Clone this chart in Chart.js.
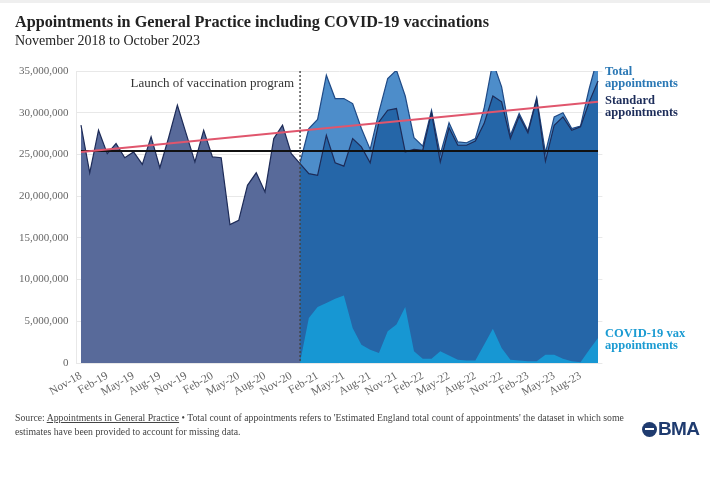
<!DOCTYPE html>
<html><head><meta charset="utf-8">
<script src="https://cdn.jsdelivr.net/npm/chart.js@4.4.0/dist/chart.umd.min.js"></script>
<style>
html,body{margin:0;padding:0;background:#fff;}
#wrap{position:relative;width:710px;height:483px;overflow:hidden;font-family:"Liberation Serif","Times New Roman",serif;}
#c{position:absolute;left:0;top:0;}
.t{position:absolute;white-space:nowrap;}
#topbar{position:absolute;left:0;top:0;width:710px;height:3px;background:#efefef;}
#title{left:15px;top:13px;font-size:16.2px;font-weight:bold;color:#222;}
#sub{left:15px;top:33px;font-size:14px;color:#222;}
.lab{position:absolute;left:605px;font-weight:bold;font-size:12.5px;line-height:12px;white-space:nowrap;}
#foot{position:absolute;left:15px;top:411px;width:615px;font-size:9.75px;line-height:14px;color:#444;}
#foot u{text-decoration:underline;}
#logo{position:absolute;left:642px;top:418px;height:22px;display:flex;align-items:center;}
#logo .circ{width:15px;height:15px;border-radius:50%;background:#1f3b6f;margin-right:1px;position:relative;}
#logo .circ:before{content:"";position:absolute;left:3px;right:3px;top:6.5px;height:2px;background:#fff;}
#logo .txt{font-family:"Liberation Sans",Arial,sans-serif;font-weight:bold;font-size:19px;color:#1f3b6f;letter-spacing:-0.6px;}
</style></head>
<body>
<div id="wrap">
<div id="topbar"></div>
<canvas id="c" width="710" height="483"></canvas>
<div class="t" id="title">Appointments in General Practice including COVID-19 vaccinations</div>
<div class="t" id="sub">November 2018 to October 2023</div>
<div class="lab" style="top:65px;color:#2a78b5;">Total<br>appointments</div>
<div class="lab" style="top:94px;color:#1d2d5a;">Standard<br>appointments</div>
<div class="lab" style="top:327px;color:#1b9bd2;">COVID-19 vax<br>appointments</div>
<div id="foot">Source: <u>Appointments in General Practice</u> • Total count of appointments refers to 'Estimated England total count of appointments' the dataset in which some estimates have been provided to account for missing data.</div>
<div id="logo"><div class="circ"></div><div class="txt">BMA</div></div>
</div>
<script>
// Month categories, Nov 2018 – Oct 2023
const months = ["Nov-18","Dec-18","Jan-19","Feb-19","Mar-19","Apr-19","May-19","Jun-19","Jul-19","Aug-19","Sep-19","Oct-19",
"Nov-19","Dec-19","Jan-20","Feb-20","Mar-20","Apr-20","May-20","Jun-20","Jul-20","Aug-20","Sep-20","Oct-20",
"Nov-20","Dec-20","Jan-21","Feb-21","Mar-21","Apr-21","May-21","Jun-21","Jul-21","Aug-21","Sep-21","Oct-21",
"Nov-21","Dec-21","Jan-22","Feb-22","Mar-22","Apr-22","May-22","Jun-22","Jul-22","Aug-22","Sep-22","Oct-22",
"Nov-22","Dec-22","Jan-23","Feb-23","Mar-23","Apr-23","May-23","Jun-23","Jul-23","Aug-23","Sep-23","Oct-23"];

// Values in millions of appointments
// Pre-vaccination period: Nov-18 .. Dec-20
const preVaccination = [28.5,22.8,27.9,25.1,26.3,24.6,25.3,23.8,27.1,23.4,27.0,30.9,27.5,24.1,27.9,24.7,24.6,16.6,17.1,21.3,22.8,20.5,26.9,28.5,25.1,23.9];
// Vaccination period: Dec-20 .. Oct-23
const standardAppts = [23.9,22.7,22.5,27.3,24.0,23.6,26.9,25.9,24.0,28.9,30.3,30.5,25.3,25.6,25.5,30.0,24.1,28.2,26.1,26.1,26.6,28.7,32.0,31.3,26.9,29.6,27.6,31.6,24.2,28.5,29.5,27.9,28.3,31.3,33.8];
const vaxAppts = [0.1,5.4,6.7,7.2,7.7,8.1,4.2,2.2,1.6,1.2,3.8,4.6,6.7,1.4,0.5,0.5,1.4,0.9,0.4,0.3,0.3,2.2,4.1,1.8,0.4,0.3,0.2,0.2,1.0,1.0,0.5,0.2,0.1,1.6,3.0];
const totalAppts = [24.0,28.1,29.2,34.5,31.7,31.7,31.1,28.1,25.6,30.1,34.1,35.1,32.0,27.0,26.0,30.3,25.0,28.8,26.5,26.4,26.9,30.5,36.1,33.1,27.3,29.9,27.8,31.8,25.2,29.5,30.0,28.1,28.4,32.9,36.8];
const averageLevel = 25.4;
const trendStart = 25.3, trendEnd = 31.3;
const launchLabel = "Dec-20";
const yTicks = [0,5,10,15,20,25,30,35];

const launchIdx = months.indexOf(launchLabel);
const n = months.length;
const pad = (arr, before) => Array(before).fill(null).concat(arr).concat(Array(Math.max(0, n - before - arr.length)).fill(null));
const ends = (a, b) => months.map((m, i) => i === 0 ? a : (i === n - 1 ? b : null));

const navy = '#1d2b58';
const launchPlugin = {
  id: 'launch',
  afterDatasetsDraw(chart) {
    const {ctx, chartArea, scales} = chart;
    const x = scales.x.getPixelForValue(launchIdx);
    ctx.save();
    ctx.strokeStyle = '#444';
    ctx.lineWidth = 1.4;
    ctx.setLineDash([2, 2]);
    ctx.beginPath();
    ctx.moveTo(x, chartArea.top);
    ctx.lineTo(x, chartArea.bottom);
    ctx.stroke();
    ctx.setLineDash([]);
    ctx.fillStyle = '#333';
    ctx.font = '13px "Liberation Serif", serif';
    ctx.textAlign = 'right';
    ctx.textBaseline = 'middle';
    ctx.fillText('Launch of vaccination program', x - 6, chartArea.top + 13);
    ctx.restore();
  }
};

new Chart(document.getElementById('c'), {
  type: 'line',
  data: {
    labels: months,
    datasets: [
      {label: 'Trend', data: ends(trendStart, trendEnd), spanGaps: true, borderColor: '#e0566d', borderWidth: 2, pointRadius: 0, fill: false},
      {label: 'Average', data: ends(averageLevel, averageLevel), spanGaps: true, borderColor: '#111', borderWidth: 2, pointRadius: 0, fill: false},
      {label: 'COVID-19 vax appointments', data: pad(vaxAppts, launchIdx), borderWidth: 0, borderColor: 'rgba(0,0,0,0)', backgroundColor: '#1797d3', pointRadius: 0, fill: 'origin'},
      {label: 'Pre-vaccination', data: pad(preVaccination, 0), borderColor: navy, borderWidth: 1.2, backgroundColor: '#586a9a', pointRadius: 0, fill: 'origin'},
      {label: 'Standard appointments', data: pad(standardAppts, launchIdx), borderColor: navy, borderWidth: 1.2, backgroundColor: '#2566a8', pointRadius: 0, fill: 'origin'},
      {label: 'Total appointments', data: pad(totalAppts, launchIdx), borderColor: '#1f4a86', borderWidth: 1.2, backgroundColor: '#4d8dca', pointRadius: 0, fill: 'origin'}
    ]
  },
  options: {
    responsive: false,
    animation: false,
    events: [],
    layout: {padding: {left: 0, top: 71, right: 107.6, bottom: 0}},
    elements: {line: {tension: 0}},
    plugins: {legend: {display: false}, tooltip: {enabled: false}},
    scales: {
      x: {
        type: 'category',
        offset: true,
        grid: {display: false, drawTicks: false},
        border: {display: false},
        ticks: {
          autoSkip: false, maxRotation: 30, minRotation: 30, padding: 6,
          color: '#666', font: {family: '"Liberation Serif", serif', size: 11.5},
          callback: function(v, i) { return i % 3 === 0 ? this.getLabelForValue(v) : ''; }
        },
        afterFit(s) { s.height = 120; }
      },
      y: {
        min: 0, max: 35,
        afterBuildTicks(s) { s.ticks = yTicks.map(v => ({value: v})); },
        grid: {color: '#e8e8e8', drawTicks: false},
        border: {display: true, color: '#e8e8e8'},
        ticks: {
          padding: 8, color: '#666', font: {family: '"Liberation Serif", serif', size: 11},
          callback: v => (v * 1000000).toLocaleString('en-US')
        },
        afterFit(s) { s.width = 76.6; }
      }
    }
  },
  plugins: [launchPlugin]
});
</script>
</body></html>
